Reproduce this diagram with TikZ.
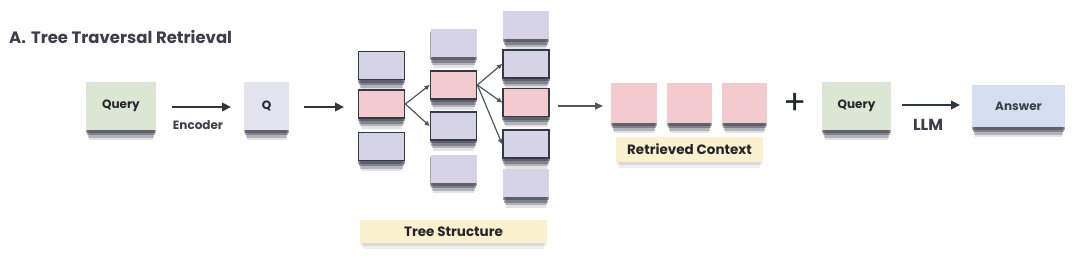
\documentclass[tikz,border=0pt]{standalone}
\usepackage{fontspec}
\setmainfont{Poppins}
\usetikzlibrary{arrows.meta,backgrounds}
\definecolor{qgreen}{HTML}{DCE7D3}
\definecolor{qblue}{HTML}{E2E5EF}
\definecolor{lpurple}{HTML}{D7D3E7}
\definecolor{lpink}{HTML}{F3CBCF}
\definecolor{ansblue}{HTML}{D3DEEE}
\definecolor{beige}{HTML}{FCF1CF}
\definecolor{bordc}{HTML}{343946}
\definecolor{txtc}{HTML}{22252B}
\definecolor{titlec}{HTML}{3A3F4B}
\definecolor{arrc}{HTML}{30353F}
\definecolor{thinc}{HTML}{50555F}
\tikzset{
  card/.style={inner sep=0pt, font=\bfseries\fontsize{12}{14}\selectfont, text=txtc},
  tbox/.style={card, minimum width=46pt, minimum height=28pt, fill=lpurple},
  bbox/.style={tbox, draw=bordc, line width=1.8pt},
  lbl/.style={inner sep=0pt, font=\bfseries\fontsize{13.5}{15}\selectfont, text=txtc, fill=beige},
  bigarrow/.style={-{Triangle[length=9pt,width=8.5pt]}, line width=2.2pt, draw=arrc},
  midarrow/.style={-{Triangle[length=8pt,width=7pt]}, line width=1.5pt, draw=thinc},
  thinarrow/.style={-{Triangle[length=5pt,width=4.5pt]}, line width=1.2pt, draw=thinc},
  small/.style={font=\bfseries\fontsize{12}{14}\selectfont, text=titlec},
  shadelayer/.style={fill=bordc, fill opacity=#1}
}
\newcommand\boxshadow[1]{%
  \fill[shadelayer=0.45] ([xshift=0pt,yshift=-2.5pt]#1.south west) rectangle ([xshift=0pt,yshift=-2.5pt]#1.north east);
  \fill[shadelayer=0.40] ([xshift=1pt,yshift=-5pt]#1.south west) rectangle ([xshift=-1pt,yshift=-5pt]#1.north east);
  \fill[shadelayer=0.28] ([xshift=2pt,yshift=-7.5pt]#1.south west) rectangle ([xshift=-2pt,yshift=-7.5pt]#1.north east);
  \fill[shadelayer=0.14] ([xshift=3pt,yshift=-10pt]#1.south west) rectangle ([xshift=-3pt,yshift=-10pt]#1.north east);
}
\newcommand\lblshadow[1]{%
  \fill[shadelayer=0.12] ([xshift=1pt,yshift=-3pt]#1.south west) rectangle ([xshift=-1pt,yshift=-3pt]#1.north east);
  \fill[shadelayer=0.08] ([xshift=3pt,yshift=-6pt]#1.south west) rectangle ([xshift=-3pt,yshift=-6pt]#1.north east);
}
\begin{document}
\begin{tikzpicture}[x=1pt,y=-1pt]
\useasboundingbox (0,0) rectangle (1080,261);
\node[anchor=west, font=\bfseries\fontsize{16.5}{19}\selectfont, text=titlec, inner sep=0pt] (title) at (9,37) {A.\hspace{5pt}Tree Traversal Retrieval};

% query and encoder
\node[card, fill=qgreen, minimum width=70pt, minimum height=48pt] (query) at (121,106) {Query};
\node[card, fill=qblue, minimum width=45pt, minimum height=48pt] (q) at (266.5,106) {Q};
\coordinate (e1) at (172,107);
\coordinate (e2) at (231,107);
\draw[bigarrow] (e1) -- (e2);
\node[small] (enc) at (198,125) {Encoder};
\coordinate (t1) at (304,107);
\coordinate (t2) at (344,107);
\draw[bigarrow] (t1) -- (t2);

% tree column 1
\node[bbox] (c1a) at (381.5,65.5) {};
\node[bbox, fill=lpink] (c1b) at (381.5,104) {};
\node[bbox] (c1c) at (381.5,146.5) {};
% column 2
\node[tbox] (c2a) at (453.5,43.5) {};
\node[bbox, fill=lpink] (c2b) at (453.5,85) {};
\node[bbox] (c2c) at (453.5,126) {};
\node[tbox] (c2d) at (453.5,169) {};
% column 3
\node[tbox] (c3a) at (526,25.5) {};
\node[bbox] (c3b) at (526,64) {};
\node[bbox, fill=lpink] (c3c) at (526,102.5) {};
\node[bbox] (c3d) at (526,144) {};
\node[tbox] (c3e) at (526,183.5) {};

\draw[thinarrow] (c1b.east) -- (c2b.west);
\draw[thinarrow] (c1b.east) -- (c2c.west);
\draw[thinarrow] (c2b.east) -- (c3b.west);
\draw[thinarrow] (c2b.east) -- (c3c.west);
\draw[thinarrow] (c2b.east) -- (c3d.west);

\node[lbl, minimum width=187pt, minimum height=23pt] (treelbl) at (453.5,231.5) {Tree Structure};

% retrieved context
\coordinate (r1) at (558,106);
\coordinate (r2) at (603,106);
\draw[midarrow] (r1) -- (r2);
\node[card, fill=lpink, minimum width=46pt, minimum height=40pt] (rc1) at (634,103) {};
\node[card, fill=lpink, minimum width=45pt, minimum height=40pt] (rc2) at (689.5,103) {};
\node[card, fill=lpink, minimum width=45pt, minimum height=40pt] (rc3) at (744.5,103) {};
\node[lbl, minimum width=147pt, minimum height=25pt] (rclbl) at (689.5,149.5) {Retrieved Context};

\node[font=\fontsize{34}{34}\selectfont, text=txtc, inner sep=0pt] (plus) at (795,104) {+};

% LLM and answer
\node[card, fill=qgreen, minimum width=69pt, minimum height=48pt] (query2) at (856.5,106) {Query};
\coordinate (l1) at (902,105);
\coordinate (l2) at (960,105);
\draw[bigarrow] (l1) -- (l2);
\node[font=\bfseries\fontsize{16}{18}\selectfont, text=titlec] (llm) at (928,125) {LLM};
\node[card, fill=ansblue, minimum width=93pt, minimum height=42pt, text=titlec] (ans) at (1018.5,106) {Answer};

\begin{scope}[on background layer]
  \foreach \n in {query,q,c1a,c1b,c1c,c2a,c2b,c2c,c2d,c3a,c3b,c3c,c3d,c3e,rc1,rc2,rc3,query2,ans}{\boxshadow{\n}}
  \foreach \n in {treelbl,rclbl}{\lblshadow{\n}}
\end{scope}
\end{tikzpicture}
\end{document}
